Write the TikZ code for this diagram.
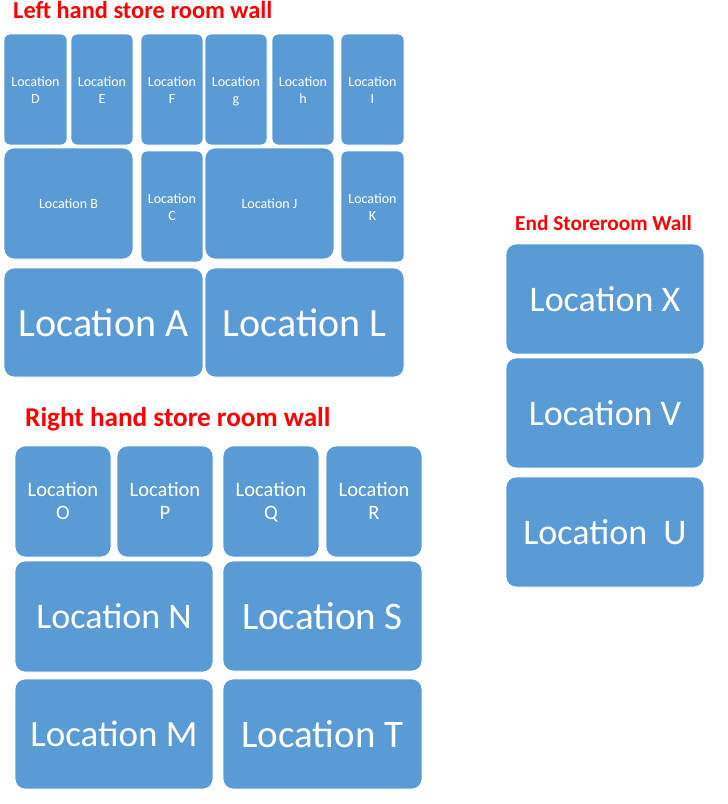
\documentclass[tikz,border=0pt]{standalone}
\usepackage{fontspec}
\setmainfont{Carlito}
\definecolor{boxblue}{HTML}{5B9BD5}
\definecolor{titlered}{HTML}{FF0000}
\tikzset{
  locbox/.style={draw=white, line width=0.8pt, fill=boxblue, text=white, align=center, inner sep=0pt, outer sep=0pt},
  smallbox/.style={locbox, rounded corners=6pt, font=\fontsize{14}{16.5}\selectfont},
  widebox/.style={locbox, rounded corners=10pt, font=\fontsize{14}{16.5}\selectfont},
  medbox/.style={locbox, rounded corners=10pt, font=\fontsize{20.5}{23}\selectfont},
  bigbox/.style={locbox, rounded corners=10pt, font=\fontsize{#1}{#1}\selectfont},
  walltitle/.style={text=titlered, anchor=base west, inner sep=0pt, font=\bfseries\fontsize{#1}{#1}\selectfont}
}
\newcommand{\LocBox}[7]{\node[#2, minimum width={#5pt-#3pt}, minimum height={#6pt-#4pt}] (#1) at ({(#3+#5)/2},{(#4+#6)/2}) {#7};}
\newcommand{\Two}[1]{\rule{0pt}{13.3pt}Location\\#1\vphantom{gQ}}
\newcommand{\TwoM}[1]{\rule{0pt}{16.4pt}Location\\#1\vphantom{gQ}}
\begin{document}
\begin{tikzpicture}[x=1pt, y=-1pt]
\useasboundingbox (0,0) rectangle (728,804);
% Left hand wall
\node[walltitle=24.4] (tleft) at (13,18) {Left hand store room wall};
\LocBox{locD}{smallbox}{4}{34}{67}{145}{\Two{D}}
\LocBox{locE}{smallbox}{71}{34}{133}{145}{\Two{E}}
\LocBox{locF}{smallbox}{141}{34}{203}{145}{\Two{F}}
\LocBox{locg}{smallbox}{205}{34}{267}{145}{\Two{g}}
\LocBox{loch}{smallbox}{272}{34}{334}{145}{\Two{h}}
\LocBox{locI}{smallbox}{341}{34}{404}{145}{\Two{I}}
\LocBox{locB}{widebox}{4}{148}{133}{259}{Location B}
\LocBox{locC}{smallbox}{141}{151}{203}{262}{\Two{C}}
\LocBox{locJ}{widebox}{205}{148}{334}{259}{Location J}
\LocBox{locK}{smallbox}{341}{151}{404}{262}{\Two{K}}
\LocBox{locA}{bigbox=40}{4}{268}{203}{377}{Location A}
\LocBox{locL}{bigbox=40}{205}{268}{404}{377}{Location L}
% End wall
\node[walltitle=21.3] (tend) at (515,230) {End Storeroom Wall};
\LocBox{locX}{bigbox=36}{506}{244}{704}{354}{Location X}
\LocBox{locV}{bigbox=36}{506}{358}{704}{468}{Location V}
\LocBox{locU}{bigbox=36}{506}{477}{704}{587}{Location~~U}
% Right hand wall
\node[walltitle=27.2] (tright) at (25,426) {Right hand store room wall};
\LocBox{locO}{medbox}{15}{446}{111}{557}{\TwoM{O}}
\LocBox{locP}{medbox}{117}{446}{213}{557}{\TwoM{P}}
\LocBox{locQ}{medbox}{223}{446}{319}{557}{\TwoM{Q}}
\LocBox{locR}{medbox}{326}{446}{422}{557}{\TwoM{R}}
\LocBox{locN}{bigbox=36}{15}{561}{213}{672}{Location N}
\LocBox{locS}{bigbox=39}{223}{561}{422}{671}{Location S}
\LocBox{locM}{bigbox=37}{15}{679}{213}{789}{Location M}
\LocBox{locT}{bigbox=39}{223}{679}{422}{789}{Location T}
\end{tikzpicture}
\end{document}
